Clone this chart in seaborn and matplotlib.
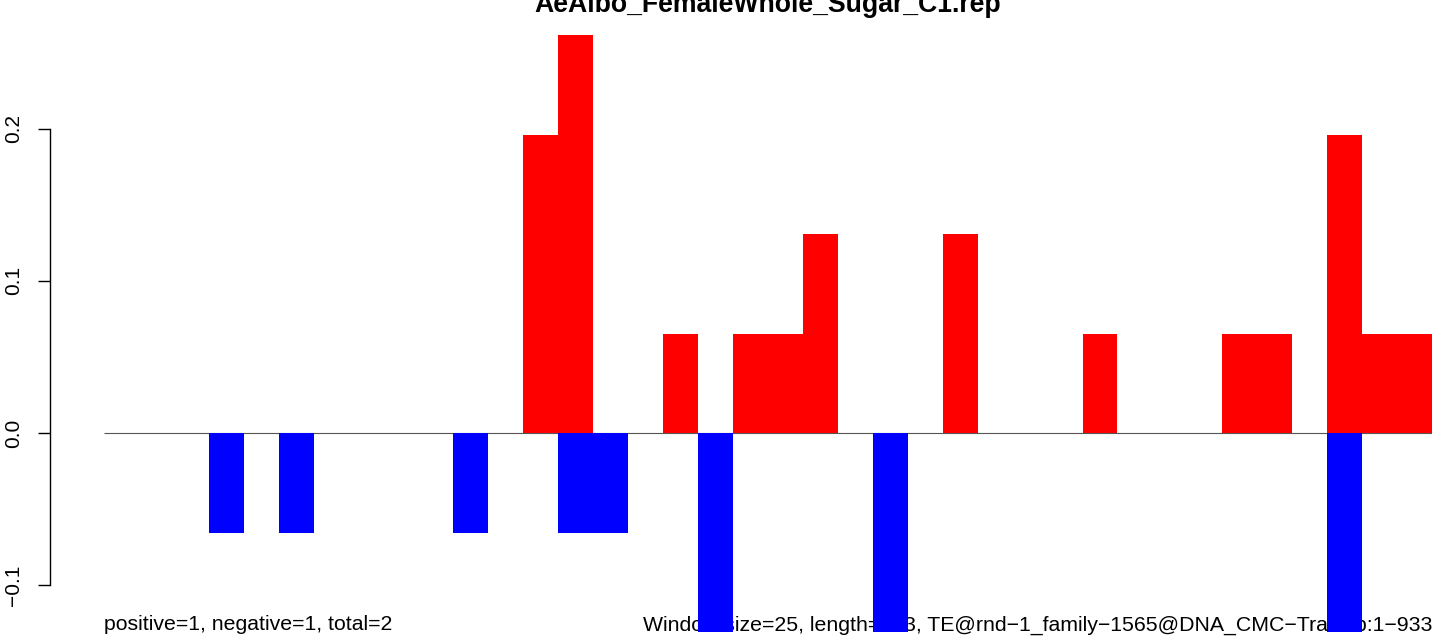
import numpy as np
import matplotlib as mpl; mpl.use("Agg")
import matplotlib.pyplot as plt
import seaborn as sns

# ---- datos: 38 ventanas de 25 nt (longitud 933) ----
N_WIN = 38
WIN = list(range(N_WIN))
U = 0.06536  # una lectura normalizada
POS_IDX = [12, 13, 16, 18, 19, 20, 24, 28, 32, 33, 35, 36, 37]
POS_VAL = [3, 4, 1, 1, 1, 2, 2, 1, 1, 1, 3, 1, 1]
NEG_IDX = [3, 5, 10, 13, 14, 17, 22, 35]
NEG_VAL = [-1, -1, -1, -1, -1, -2, -2, -2]
TITLE = "AeAlbo_FemaleWhole_Sugar_C1.rep"
LEFT_TXT = "positive=1, negative=1, total=2"
RIGHT_TXT = "Window size=25, length=933, TE@rnd\u22121_family\u22121565@DNA_CMC\u2212Transib:1\u2212933"
YTICKS = [-0.1, 0.0, 0.1, 0.2]
YLABELS = ["\u22120.1", "0.0", "0.1", "0.2"]

pos = np.zeros(N_WIN); pos[POS_IDX] = np.array(POS_VAL) * U
neg = np.zeros(N_WIN); neg[NEG_IDX] = np.array(NEG_VAL) * U

sns.set_style("white")
plt.rcParams["font.family"] = ["Liberation Sans", "DejaVu Sans"]
plt.rcParams["text.color"] = "black"

W, H = 1441, 641
fig = plt.figure(figsize=(W/100, H/100), dpi=100)
ax = fig.add_axes([50/W, (H-632)/H, (1432-50)/W, (632-35)/H])

sns.barplot(x=WIN, y=pos, color="#FF0000", saturation=1, width=1, linewidth=0,
            errorbar=None, ax=ax, zorder=3)
sns.barplot(x=WIN, y=neg, color="#0000FF", saturation=1, width=1, linewidth=0,
            errorbar=None, ax=ax, zorder=3)

ax.hlines(0, -0.5, N_WIN-0.5, color="#555555", lw=0.8, zorder=2)

px = (N_WIN) / (1432-104)
ax.set_xlim(-0.5 - 54*px, N_WIN-0.5)
ax.set_ylim(-2*U, 4*U)
ax.set_xticks([]); ax.set_xlabel(""); ax.set_ylabel("")
for s in ("top", "right", "bottom"): ax.spines[s].set_visible(False)
ax.spines["left"].set_bounds(-0.1, 0.2)
ax.spines["left"].set_linewidth(1.0)
ax.spines["left"].set_color("black")
ax.set_yticks(YTICKS)
ax.set_yticklabels(YLABELS, rotation=90, va="center", fontsize=15)
ax.tick_params(axis="y", left=True, direction="out", length=8.6, width=1.0, pad=11,
               colors="black", labelcolor="black")

ybase = (433-630)/1520
ax.text(-0.5, ybase, LEFT_TXT, ha="left", va="baseline", fontsize=15.3, color="black",
        zorder=1, clip_on=False)
ax.text(N_WIN-0.5, ybase, RIGHT_TXT, ha="right", va="baseline", fontsize=15.3, color="black",
        zorder=1, clip_on=False)

fig.text((104+1432)/2/W, 1-12/H, TITLE, ha="center", va="baseline",
         fontsize=19.2, fontweight="bold", color="black")

fig.savefig("out.png", dpi=100)
